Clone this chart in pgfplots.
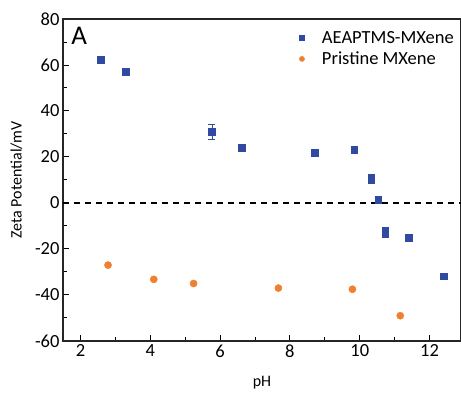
\documentclass[border=0pt]{standalone}
\usepackage{pgfplots}
\pgfplotsset{compat=1.18}
\usepackage{fontspec}
\setmainfont{Carlito}
\definecolor{cblue}{HTML}{2F4AA0}
\definecolor{corange}{HTML}{F08030}
\begin{document}
\begin{tikzpicture}
\useasboundingbox (-63pt,-55pt) rectangle (398pt,341pt);
\begin{axis}[
  scale only axis,
  width=398pt, height=322pt,
  xmin=1.5, xmax=12.9, ymin=-60, ymax=80,
  xtick={2,4,...,12}, ytick={-60,-40,...,80},
  minor x tick num=1, minor y tick num=1,
  tick pos=left, tick align=inside,
  major tick length=6pt, minor tick length=4pt,
  axis line style={line width=1.3pt, black!85},
  every tick/.style={line width=1pt, black},
  /pgf/number format/assume math mode=true,
  ticklabel style={font=\fontsize{18.5}{20}\selectfont},
  xlabel={pH}, ylabel={Zeta Potential/mV},
  label style={font=\fontsize{16}{19}\selectfont},
  xlabel style={yshift=-12pt},
  ylabel style={yshift=6pt},
  legend style={at={(0.995,0.975)}, anchor=north east, draw=none, fill=none,
    font=\fontsize{18.5}{21}\selectfont, row sep=3pt},
  legend image code/.code={\path[draw=none,fill=none] (-3pt,0pt) -- (18pt,0pt);
    \draw[#1, only marks, mark size=2.6pt] plot coordinates {(0pt,0pt)};},
  legend cell align=left,
]
\addplot[only marks, mark=square*, mark size=3.4pt, color=cblue,
  error bars/.cd, y dir=both, y explicit]
  coordinates {
  (2.59,62.2) +- (0,0.8)
  (3.30,57.0) +- (0,0.8)
  (5.76,30.9) +- (0,3.3)
  (6.61,24.0) +- (0,0.8)
  (8.70,21.7) +- (0,0.8)
  (9.84,23.2) +- (0,0.8)
  (10.33,10.0) +- (0,0.8)
  (10.33,11.2) +- (0,0.8)
  (10.53,1.3) +- (0,0.8)
  (10.73,-12.0) +- (0,0.8)
  (10.73,-13.2) +- (0,0.8)
  (11.41,-15.0) +- (0,0.8)
  (12.41,-31.8) +- (0,0.8)
  };
\addlegendentry{AEAPTMS-MXene}
\addplot[only marks, mark=*, mark size=3.6pt, color=corange]
  coordinates {
  (2.79,-27.0)
  (4.10,-33.2)
  (5.24,-35.0)
  (7.67,-37.0)
  (9.79,-37.5)
  (11.16,-49.0)
  };
\addlegendentry{Pristine MXene}
\addplot[black, line width=1.2pt, dash pattern=on 6pt off 5pt, forget plot]
  coordinates {(1.5,0) (12.9,0)};
\node[anchor=north west, font=\fontsize{27}{30}\selectfont] at (rel axis cs:0.012,0.985) {A};
\end{axis}
\end{tikzpicture}
\end{document}
